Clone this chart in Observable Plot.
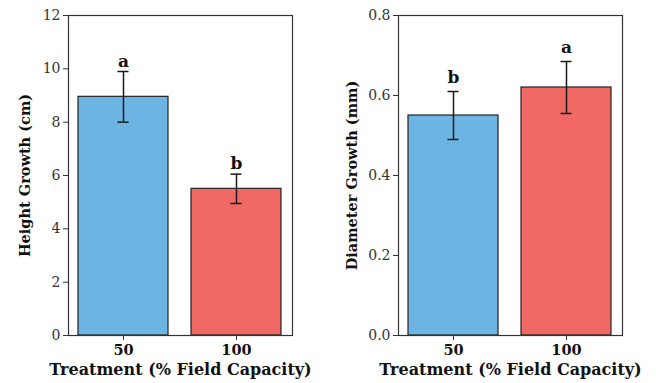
<!DOCTYPE html>
<html>
<head>
<meta charset="utf-8">
<script src="https://cdn.jsdelivr.net/npm/d3@7"></script>
<script src="https://cdn.jsdelivr.net/npm/@observablehq/plot@0.6"></script>
<style>
  html, body { margin: 0; padding: 0; background: #fff; }
  #wrap { position: relative; width: 656px; height: 383px; overflow: hidden; }
  #wrap > div { position: absolute; top: 0; }
</style>
</head>
<body>
<div id="wrap"><div id="left" style="left:0px"></div><div id="right" style="left:328px"></div></div>
<script>
const treatments = ["50", "100"];
const colors = ["#6cb4e2", "#f06964"];

const heightMean = [8.95, 5.5];
const heightErr = [0.95, 0.55];
const heightLetters = ["a", "b"];
const heightTicks = [0, 2, 4, 6, 8, 10, 12];

const diamMean = [0.55, 0.62];
const diamErr = [0.06, 0.065];
const diamLetters = ["b", "a"];
const diamTicks = [0, 0.2, 0.4, 0.6, 0.8];

const FONT = "DejaVu Serif";

function panel({means, errs, letters, ticks, ymax, ylabel, tickFmt, marginLeft, marginRight, ylabelDx, letterDy}) {
  const data = treatments.map((t, i) => ({t, m: means[i], e: errs[i], lo: means[i] - errs[i], hi: means[i] + errs[i], L: letters[i], c: colors[i]}));
  return Plot.plot({
    width: 328,
    height: 383,
    marginLeft, marginRight,
    marginTop: 15,
    marginBottom: 48,
    style: {fontFamily: FONT, background: "white", overflow: "visible"},
    x: {type: "band", domain: treatments, paddingInner: 0.2, paddingOuter: 0.09},
    y: {domain: [0, ymax]},
    marks: [
      Plot.barY(data, {x: "t", y: "m", fill: "c", stroke: "#222", strokeWidth: 1.2}),
      Plot.ruleX(data, {x: "t", y1: "lo", y2: "hi", stroke: "#1a1a1a", strokeWidth: 1.5}),
      Plot.tickY(data, {x: "t", y: "lo", stroke: "#1a1a1a", strokeWidth: 1.5, insetLeft: 39.5, insetRight: 39.5}),
      Plot.tickY(data, {x: "t", y: "hi", stroke: "#1a1a1a", strokeWidth: 1.5, insetLeft: 39.5, insetRight: 39.5}),
      Plot.text(data, {x: "t", y: "hi", text: "L", dy: letterDy, lineAnchor: "bottom", fontSize: 17, fontWeight: "bold", fill: "#111"}),
      Plot.frame({stroke: "#333", strokeWidth: 1.2}),
      Plot.axisY({ticks, tickFormat: tickFmt, tickSize: 5, tickPadding: 3, fontSize: 14, label: null, stroke: "#333", color: "#333"}),
      Plot.axisX({tickSize: 5, tickPadding: 4, fontSize: 14.5, fontWeight: "bold", label: null, stroke: "#333", color: "#111"}),
      Plot.text([ylabel], {frameAnchor: "left", textAnchor: "middle", rotate: -90, dx: ylabelDx, fontSize: 14.5, fontWeight: "bold", fill: "#111"}),
      Plot.text(["Treatment (% Field Capacity)"], {frameAnchor: "bottom", textAnchor: "middle", dy: 39, fontSize: 16, fontWeight: "bold", fill: "#111"})
    ]
  });
}

document.getElementById("left").appendChild(panel({
  means: heightMean, errs: heightErr, letters: heightLetters, ticks: heightTicks, ymax: 12,
  ylabel: "Height Growth (cm)", tickFmt: d => String(d), marginLeft: 68, marginRight: 36, ylabelDx: -43, letterDy: -5
}));
document.getElementById("right").appendChild(panel({
  means: diamMean, errs: diamErr, letters: diamLetters, ticks: diamTicks, ymax: 0.8,
  ylabel: "Diameter Growth (mm)", tickFmt: d => d.toFixed(1), marginLeft: 70, marginRight: 34, ylabelDx: -46.5, letterDy: -9
}));
</script>
</body>
</html>
